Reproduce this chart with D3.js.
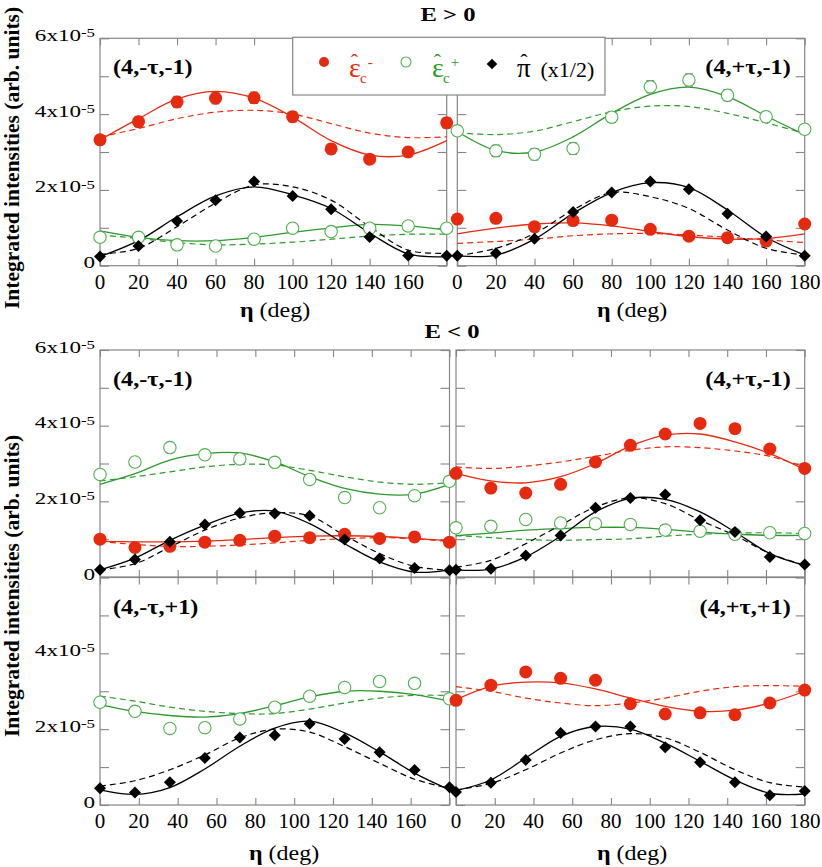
<!DOCTYPE html>
<html><head><meta charset="utf-8">
<script src="https://cdn.jsdelivr.net/npm/d3@7"></script>
<style>
body{margin:0;background:#fff}
text{font-family:"Liberation Serif","Times New Roman",serif;fill:#000}
</style>
</head><body><svg id="c" width="822" height="867"></svg>
<script>
// ---------- data (intensities in units of 1e-5) ----------
const angles20 = [0,20,40,60,80,100,120,140,160,180];
const angles18 = [0,18,36,54,72,90,108,126,144,162,180];
const xTickValues = [0,20,40,60,80,100,120,140,160,180];
const xTickLabelsLeft  = ["0","20","40","60","80","100","120","140","160"];
const xTickLabelsRight = ["0","20","40","60","80","100","120","140","160","180"];
const yTickValues = [0,1,2,3,4,5,6];
const yLabelValuesFull = [0,2,4,6];
const yLabelValuesLow  = [0,2,4];
const yLabelMantissa = {0:"0",2:"2x10",4:"4x10",6:"6x10"};
const yLabelExponent = "-5";

// E>0, (4,-tau,-1)
const aRed      = [3.32,3.80,4.32,4.42,4.43,3.93,3.08,2.81,3.00,3.77];
const aRedErr   = [0.12,0.14,0.15,0.15,0.15,0.14,0.13,0.12,0.13,0.14];
const aRedFit   = [3.32,3.88,4.40,4.60,4.42,3.92,3.30,2.92,2.92,3.30];
const aRedDash  = [3.40,3.62,3.88,4.05,4.10,4.00,3.75,3.50,3.38,3.40];
const aGreen    = [0.75,0.75,0.55,0.52,0.70,0.99,0.90,0.99,1.05,0.99];
const aGreenFit = [0.92,0.75,0.66,0.66,0.75,0.88,1.00,1.09,1.05,0.94];
const aGreenDash= [0.81,0.72,0.61,0.55,0.57,0.62,0.70,0.78,0.83,0.83];
const aBlack    = [0.24,0.52,1.18,1.73,2.22,1.84,1.49,0.76,0.27,0.26];
const aBlackFit = [0.24,0.66,1.29,1.84,2.08,1.87,1.51,0.86,0.31,0.24];
const aBlackDash= [0.30,0.46,1.03,1.65,2.13,2.08,1.73,1.03,0.41,0.33];

// E>0, (4,+tau,-1)
const bGreen    = [3.56,3.03,2.94,3.09,3.92,4.72,4.90,4.50,3.93,3.60];
const bGreenErr = [0.12,0.15,0.15,0.15,0.14,0.16,0.16,0.15,0.14,0.13];
const bGreenFit = [3.54,3.04,3.00,3.40,4.02,4.52,4.71,4.46,3.95,3.45];
const bGreenDash= [3.51,3.46,3.55,3.80,4.06,4.21,4.20,4.02,3.77,3.49];
const bRed      = [1.23,1.25,1.03,1.19,1.20,0.96,0.78,0.74,0.65,1.10];
const bRedFit   = [0.84,0.99,1.10,1.13,1.05,0.90,0.77,0.70,0.72,0.84];
const bRedDash  = [0.59,0.64,0.70,0.79,0.84,0.85,0.81,0.75,0.68,0.61];
const bBlack    = [0.26,0.33,0.71,1.42,1.93,2.22,2.02,1.37,0.77,0.26];
const bBlackFit = [0.26,0.28,0.70,1.38,1.93,2.19,2.06,1.47,0.75,0.28];
const bBlackDash= [0.26,0.46,0.85,1.47,1.93,1.82,1.51,0.94,0.46,0.28];

// E<0, (4,-tau,-1)
const cGreen    = [2.71,3.04,3.42,3.23,3.12,3.03,2.58,2.10,1.83,2.15,2.53];
const cGreenFit = [2.45,2.73,3.09,3.26,3.28,3.04,2.65,2.34,2.19,2.19,2.45];
const cGreenDash= [2.54,2.65,2.78,2.91,2.98,2.96,2.82,2.65,2.51,2.45,2.49];
const cRed      = [1.00,0.78,0.81,0.92,0.97,1.08,1.04,1.13,1.02,1.06,0.92];
const cRedFit   = [0.94,0.93,0.93,0.95,0.99,1.04,1.08,1.09,1.07,1.02,0.96];
const cRedDash  = [0.94,0.86,0.81,0.81,0.85,0.90,0.97,1.01,1.04,1.01,0.94];
const cBlack    = [0.19,0.46,0.93,1.39,1.69,1.68,1.62,0.99,0.49,0.24,0.18];
const cBlackFit = [0.19,0.50,0.97,1.37,1.69,1.74,1.41,0.88,0.40,0.13,0.19];
const cBlackDash= [0.19,0.35,0.79,1.24,1.56,1.70,1.61,1.10,0.62,0.28,0.18];

// E<0, (4,+tau,-1)
const dRed      = [2.74,2.35,2.22,2.45,3.04,3.48,3.78,4.06,3.92,3.38,2.87];
const dRedFit   = [2.74,2.54,2.49,2.65,3.00,3.46,3.75,3.78,3.57,3.26,2.84];
const dRedDash  = [2.91,2.87,2.93,3.04,3.19,3.35,3.44,3.42,3.33,3.19,2.91];
const dGreen    = [1.30,1.34,1.52,1.43,1.41,1.39,1.24,1.21,1.13,1.17,1.15];
const dGreenFit = [1.09,1.16,1.24,1.28,1.31,1.31,1.26,1.19,1.13,1.10,1.10];
const dGreenDash= [1.10,1.04,0.99,0.97,0.99,1.01,1.08,1.13,1.16,1.17,1.15];
const dBlack    = [0.19,0.22,0.57,1.10,1.83,2.09,2.18,1.50,1.19,0.53,0.33];
const dBlackFit = [0.19,0.21,0.53,1.08,1.72,2.08,2.05,1.72,1.19,0.62,0.31];
const dBlackDash= [0.26,0.44,0.88,1.37,1.85,2.09,1.94,1.50,1.10,0.62,0.31];

// E<0, (4,-tau,+1)
const eGreen    = [2.71,2.47,2.02,2.04,2.27,2.58,2.87,3.10,3.26,3.21,2.80];
const eGreenFit = [2.65,2.47,2.36,2.32,2.41,2.62,2.85,3.00,3.00,2.91,2.74];
const eGreenDash= [2.87,2.74,2.58,2.47,2.41,2.41,2.53,2.69,2.82,2.89,2.89];
const eBlack    = [0.44,0.33,0.60,1.24,1.78,1.84,2.14,1.74,1.39,0.92,0.47];
const eBlackFit = [0.40,0.28,0.46,0.95,1.55,2.03,2.21,1.90,1.40,0.84,0.40];
const eBlackDash= [0.50,0.64,0.93,1.32,1.77,2.00,1.92,1.54,1.10,0.68,0.44];

// E<0, (4,+tau,+1)
const fRed      = [2.76,3.16,3.51,3.34,3.29,2.67,2.40,2.43,2.38,2.69,3.03];
const fRedFit   = [2.78,3.13,3.24,3.22,3.06,2.82,2.60,2.47,2.50,2.69,3.00];
const fRedDash  = [3.12,3.00,2.82,2.69,2.62,2.69,2.82,3.00,3.12,3.15,3.13];
const fBlack    = [0.34,0.59,1.19,1.90,2.07,2.07,1.52,1.13,0.60,0.26,0.37];
const fBlackFit = [0.38,0.66,1.24,1.81,2.07,2.00,1.63,1.15,0.66,0.31,0.29];
const fBlackDash= [0.40,0.57,0.93,1.37,1.72,1.88,1.77,1.39,0.93,0.59,0.47];

// ---------- styling ----------
const GRAY = "#858585", RED = "#e62a10", GREEN = "#2c9a2c", GREEN_M = "#4fb04f", BLACK = "#000";
const svg = d3.select("#c");

const rows = {top:{yt:38.3,yb:265.7}, mid:{yt:350,yb:577}, bot:{yt:577.5,yb:805}};

const panels = [
  {row:"top", x0:100, x1:446.7, angles:angles20, label:"(4,-τ,-1)", side:"left", xLabels:xTickLabelsLeft, yLabels:yLabelValuesFull,
   series:[
     {color:RED, mark:"dot", pts:aRed, err:aRedErr, fit:aRedFit, dash:aRedDash},
     {color:GREEN, mark:"open", pts:aGreen, fit:aGreenFit, dash:aGreenDash},
     {color:BLACK, mark:"diamond", pts:aBlack, fit:aBlackFit, dash:aBlackDash}]},
  {row:"top", x0:457.3, x1:804.7, angles:angles20, label:"(4,+τ,-1)", side:"right", xLabels:xTickLabelsRight, yLabels:null,
   series:[
     {color:RED, mark:"dot", pts:bRed, fit:bRedFit, dash:bRedDash},
     {color:GREEN, mark:"open", pts:bGreen, err:bGreenErr, fit:bGreenFit, dash:bGreenDash},
     {color:BLACK, mark:"diamond", pts:bBlack, fit:bBlackFit, dash:bBlackDash}]},
  {row:"mid", x0:100, x1:449.5, angles:angles18, label:"(4,-τ,-1)", side:"left", xLabels:null, yLabels:yLabelValuesFull,
   series:[
     {color:RED, mark:"dot", pts:cRed, fit:cRedFit, dash:cRedDash},
     {color:GREEN, mark:"open", pts:cGreen, fit:cGreenFit, dash:cGreenDash},
     {color:BLACK, mark:"diamond", pts:cBlack, fit:cBlackFit, dash:cBlackDash}]},
  {row:"mid", x0:456, x1:804.7, angles:angles18, label:"(4,+τ,-1)", side:"right", xLabels:null, yLabels:null,
   series:[
     {color:RED, mark:"dot", pts:dRed, fit:dRedFit, dash:dRedDash},
     {color:GREEN, mark:"open", pts:dGreen, fit:dGreenFit, dash:dGreenDash},
     {color:BLACK, mark:"diamond", pts:dBlack, fit:dBlackFit, dash:dBlackDash}]},
  {row:"bot", x0:100, x1:449.5, angles:angles18, label:"(4,-τ,+1)", side:"left", xLabels:xTickLabelsLeft, yLabels:yLabelValuesLow,
   series:[
     {color:GREEN, mark:"open", pts:eGreen, fit:eGreenFit, dash:eGreenDash},
     {color:BLACK, mark:"diamond", pts:eBlack, fit:eBlackFit, dash:eBlackDash}]},
  {row:"bot", x0:456, x1:804.7, angles:angles18, label:"(4,+τ,+1)", side:"right", xLabels:xTickLabelsRight, yLabels:null,
   series:[
     {color:RED, mark:"dot", pts:fRed, fit:fRedFit, dash:fRedDash},
     {color:BLACK, mark:"diamond", pts:fBlack, fit:fBlackFit, dash:fBlackDash}]}
];

const markLayer = svg.append("g").attr("class","marks-layer");

function styleAxis(g){
  g.select(".domain").remove();
  g.selectAll(".tick line").attr("stroke",GRAY).attr("stroke-width",1.1);
}

panels.forEach(p=>{
  const r = rows[p.row];
  const x = d3.scaleLinear().domain([0,180]).range([p.x0,p.x1]);
  const y = d3.scaleLinear().domain([0,6]).range([r.yb,r.yt]);
  const g = svg.insert("g",".marks-layer");

  g.append("g").attr("transform",`translate(0,${r.yb})`)
    .call(d3.axisBottom(x).tickValues(xTickValues).tickSizeInner(-7).tickSizeOuter(0).tickFormat("")).call(styleAxis);
  g.append("g").attr("transform",`translate(0,${r.yt})`)
    .call(d3.axisTop(x).tickValues(xTickValues).tickSizeInner(-7).tickSizeOuter(0).tickFormat("")).call(styleAxis);
  g.append("g").attr("transform",`translate(${p.x0},0)`)
    .call(d3.axisLeft(y).tickValues(yTickValues).tickSizeInner(-9).tickSizeOuter(0).tickFormat("")).call(styleAxis);
  g.append("g").attr("transform",`translate(${p.x1},0)`)
    .call(d3.axisRight(y).tickValues(yTickValues).tickSizeInner(-9).tickSizeOuter(0).tickFormat("")).call(styleAxis);
  g.append("rect").attr("x",p.x0).attr("y",r.yt).attr("width",p.x1-p.x0).attr("height",r.yb-r.yt)
    .attr("fill","none").attr("stroke",GRAY).attr("stroke-width",1.2);

  if(p.xLabels){
    p.xLabels.forEach((t,i)=>{
      g.append("text").attr("x",x(xTickValues[i])).attr("y",r.yb+23).attr("text-anchor","middle")
        .attr("font-size",21).text(t);
    });
  }
  if(p.yLabels){
    p.yLabels.forEach(v=>{
      const t = g.append("text").attr("transform",`translate(95,${y(v)+2.5}) scale(1.4,1)`)
        .attr("text-anchor","end").attr("font-size",16.5);
      t.append("tspan").text(yLabelMantissa[v]);
      if(v!==0) t.append("tspan").attr("dy",-3.5).attr("font-size",12).text(yLabelExponent);
    });
  }
  const lx = p.side==="left" ? p.x0+13 : p.x1-14;
  g.append("text").attr("transform",`translate(${lx},${r.yt+36}) scale(1.1,1)`)
    .attr("text-anchor",p.side==="left"?"start":"end").attr("font-size",22).attr("font-weight","bold").text(p.label);

  const line = d3.line().x((d,i)=>x(p.angles[i])).y(d=>y(d)).curve(d3.curveCatmullRom.alpha(0.5));
  p.series.forEach(s=>{
    g.append("path").attr("d",line(s.dash)).attr("fill","none").attr("stroke",s.color)
      .attr("stroke-width",1.2).attr("stroke-dasharray","6,4");
    g.append("path").attr("d",line(s.fit)).attr("fill","none").attr("stroke",s.color)
      .attr("stroke-width",1.3);
  });
  p.series.forEach(s=>{
    if(s.err){
      s.pts.forEach((v,i)=>{
        const cx = x(p.angles[i]), y1 = y(v+s.err[i]), y2 = y(v-s.err[i]);
        markLayer.append("path").attr("d",`M${cx},${y1}V${y2}M${cx-4},${y1}H${cx+4}M${cx-4},${y2}H${cx+4}`)
          .attr("stroke","#777").attr("stroke-width",1).attr("fill","none");
      });
    }
  });
  p.series.forEach(s=>{
    s.pts.forEach((v,i)=>{
      const cx = x(p.angles[i]), cy = y(v);
      if(s.mark==="dot"){
        markLayer.append("circle").attr("cx",cx).attr("cy",cy).attr("r",6.5).attr("fill",RED);
      } else if(s.mark==="open"){
        markLayer.append("circle").attr("cx",cx).attr("cy",cy).attr("r",6.2).attr("fill","#fff")
          .attr("stroke",GREEN_M).attr("stroke-width",1.1);
      } else {
        markLayer.append("path").attr("d",d3.symbol(d3.symbolSquare,72)())
          .attr("transform",`translate(${cx},${cy}) rotate(45)`).attr("fill",BLACK);
      }
    });
  });
});

function etaLabel(cx, by){
  const t = svg.append("text").attr("transform",`translate(${cx},${by}) scale(1.2,1)`).attr("text-anchor","middle").attr("font-size",20);
  t.append("tspan").attr("font-weight","bold").text("η");
  t.append("tspan").text(" (deg)");
}
etaLabel(275,317); etaLabel(632,317); etaLabel(284,860); etaLabel(632,860);

[158,586].forEach(cy=>{
  svg.append("text").attr("transform",`translate(19,${cy}) rotate(-90)`).attr("text-anchor","middle")
    .attr("font-size",21.5).attr("font-weight","bold").text("Integrated intensities (arb. units)");
});

svg.append("text").attr("transform","translate(448,20.5) scale(1.3,1)").attr("text-anchor","middle")
  .attr("font-size",19).attr("font-weight","bold").text("E > 0");
svg.append("text").attr("transform","translate(452,338) scale(1.3,1)").attr("text-anchor","middle")
  .attr("font-size",19).attr("font-weight","bold").text("E < 0");

// legend
const lg = svg.append("g");
lg.append("rect").attr("x",292.7).attr("y",37.3).attr("width",312.3).attr("height",57.7)
  .attr("fill","#fff").attr("stroke",GRAY).attr("stroke-width",1.2);
lg.append("circle").attr("cx",324).attr("cy",62).attr("r",5).attr("fill",RED);
lg.append("circle").attr("cx",406).attr("cy",62).attr("r",5).attr("fill","#fff").attr("stroke",GREEN_M).attr("stroke-width",1.1);
lg.append("path").attr("d",d3.symbol(d3.symbolSquare,56)()).attr("transform","translate(492,64) rotate(45)").attr("fill",BLACK);

function epsLabel(x0, color, supText){
  const t = lg.append("text").attr("x",x0).attr("y",77).style("fill",color);
  t.append("tspan").attr("font-size",28).text("ε");
  t.append("tspan").attr("font-size",22).attr("dx",-10).attr("dy",-8).text("ˆ");
  t.append("tspan").attr("font-size",15).attr("dx",2).attr("dy",14).text("c");
  t.append("tspan").attr("font-size",15).attr("dx",1).attr("dy",-16).text(supText);
}
epsLabel(349, RED, "-");
epsLabel(432, GREEN, "+");
const pt = lg.append("text").attr("x",517).attr("y",77);
pt.append("tspan").attr("font-size",27).text("π");
pt.append("tspan").attr("font-size",22).attr("dx",-10.5).attr("dy",-8).text("ˆ");
pt.append("tspan").attr("font-size",22).attr("dx",13).attr("dy",8).text("(x1/2)");
</script></body></html>
